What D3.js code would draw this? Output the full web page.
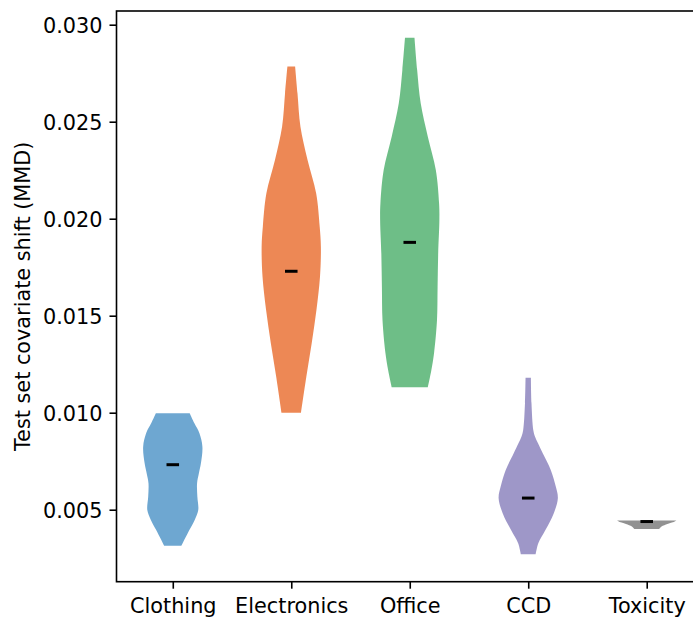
<!DOCTYPE html>
<html>
<head>
<meta charset="utf-8">
<script src="https://cdn.jsdelivr.net/npm/d3@7"></script>
<style>
  body { margin: 0; background: #fff; }
  text { font-family: 'DejaVu Sans', sans-serif; }
</style>
</head>
<body>
<div id="chart"></div>
<script>
const categories = ['Clothing', 'Electronics', 'Office', 'CCD', 'Toxicity']
const means = [0.00732, 0.01729, 0.01878, 0.0056, 0.00439]
const yTicks = [0.005, 0.010, 0.015, 0.020, 0.025, 0.030]
const colors = ['#3182bd', '#e6550d', '#31a354', '#756bb1', '#636363']

// density profiles: [value, relative density]
const clothingDensity = [
  [0.00997, 0.57], [0.00945, 0.73], [0.00894, 0.90], [0.00825, 1.0],
  [0.00739, 0.95], [0.00687, 0.88], [0.00636, 0.82], [0.00567, 0.83],
  [0.00498, 0.86], [0.00447, 0.74], [0.00395, 0.56], [0.00314, 0.29]
]
const electronicsDensity = [
  [0.02784, 0.13], [0.02646, 0.21], [0.02474, 0.31], [0.02303, 0.55],
  [0.02131, 0.84], [0.01959, 0.96], [0.01856, 1.0], [0.01701, 0.97],
  [0.01529, 0.85], [0.01358, 0.69], [0.01186, 0.51], [0.01000, 0.33]
]
const officeDensity = [
  [0.02933, 0.16], [0.02767, 0.25], [0.02595, 0.37], [0.02423, 0.61],
  [0.02251, 0.88], [0.02079, 0.99], [0.01993, 1.0], [0.01822, 0.96],
  [0.01649, 0.94], [0.01478, 0.92], [0.01306, 0.82], [0.01220, 0.73],
  [0.01131, 0.61]
]
const ccdDensity = [
  [0.01180, 0.09], [0.01049, 0.11], [0.00911, 0.17], [0.00876, 0.23],
  [0.00842, 0.33], [0.00791, 0.49], [0.00705, 0.76], [0.00619, 0.93],
  [0.00559, 1.0], [0.00481, 0.86], [0.00395, 0.58], [0.00327, 0.34],
  [0.00270, 0.25]
]
const toxicityDensity = [
  [0.00445, 1.0], [0.00435, 0.88], [0.00426, 0.70], [0.00413, 0.50],
  [0.00400, 0.42]
]
const densities = [clothingDensity, electronicsDensity, officeDensity, ccdDensity, toxicityDensity]

const fullWidth = 693,
  fullHeight = 617,
  margin = { top: 11, left: 116.5 },
  plotRight = 703,
  plotBottom = 581.7,
  fontSize = '20.8px'

const x = d3.scaleLinear()
  .domain([0.525, 5.475])
  .range([margin.left, plotRight])

const y = d3.scaleLinear()
  .domain([0.001289, 0.030706])
  .range([plotBottom, margin.top])

const svg = d3.select('#chart')
  .append('svg')
  .attr('width', fullWidth)
  .attr('height', fullHeight)
  .style('display', 'block')

// violins
categories.forEach((cat, i) => {
  const pos = i + 1
  const maxD = d3.max(densities[i], d => d[1])
  const half = d => x(pos + 0.25 * d[1] / maxD) - x(pos)

  const area = d3.area()
    .curve(d3.curveCatmullRom.alpha(0.5))
    .y(d => y(d[0]))
    .x0(d => x(pos) - half(d))
    .x1(d => x(pos) + half(d))

  svg.append('path')
    .datum(densities[i])
    .attr('d', area)
    .attr('fill', colors[i])
    .attr('fill-opacity', 0.7)
})

// mean markers
svg.selectAll('.mean')
  .data(means)
  .enter()
  .append('line')
  .attr('class', 'mean')
  .attr('x1', (d, i) => x(i + 1 - 0.053))
  .attr('x2', (d, i) => x(i + 1 + 0.053))
  .attr('y1', d => y(d))
  .attr('y2', d => y(d))
  .attr('stroke', '#000')
  .attr('stroke-width', 3)

// axes
const yAxis = svg.append('g')
  .attr('transform', `translate(${margin.left},0)`)
  .call(d3.axisLeft(y)
    .tickValues(yTicks)
    .tickFormat(d3.format('.3f'))
    .tickSize(7)
    .tickPadding(7))
yAxis.select('.domain').remove()
yAxis.selectAll('line').attr('stroke-width', 1.6)
yAxis.selectAll('text')
  .attr('dy', '0.37em')
  .style('font-size', fontSize)
  .attr('fill', '#000')

const xAxis = svg.append('g')
  .attr('transform', `translate(0,${plotBottom})`)
  .call(d3.axisBottom(x)
    .tickValues(d3.range(1, categories.length + 1))
    .tickFormat(d => categories[d - 1])
    .tickSize(7)
    .tickPadding(7))
xAxis.select('.domain').remove()
xAxis.selectAll('line').attr('stroke-width', 1.6)
xAxis.selectAll('text')
  .attr('dy', '0.83em')
  .style('font-size', fontSize)
  .attr('fill', '#000')

// frame
svg.append('rect')
  .attr('x', margin.left)
  .attr('y', margin.top)
  .attr('width', plotRight - margin.left)
  .attr('height', plotBottom - margin.top)
  .attr('fill', 'none')
  .attr('stroke', '#000')
  .attr('stroke-width', 1.6)

svg.append('text')
  .attr('transform', `translate(29.5,${(margin.top + plotBottom) / 2}) rotate(-90)`)
  .attr('text-anchor', 'middle')
  .style('font-size', fontSize)
  .text('Test set covariate shift (MMD)')
</script>
</body>
</html>
